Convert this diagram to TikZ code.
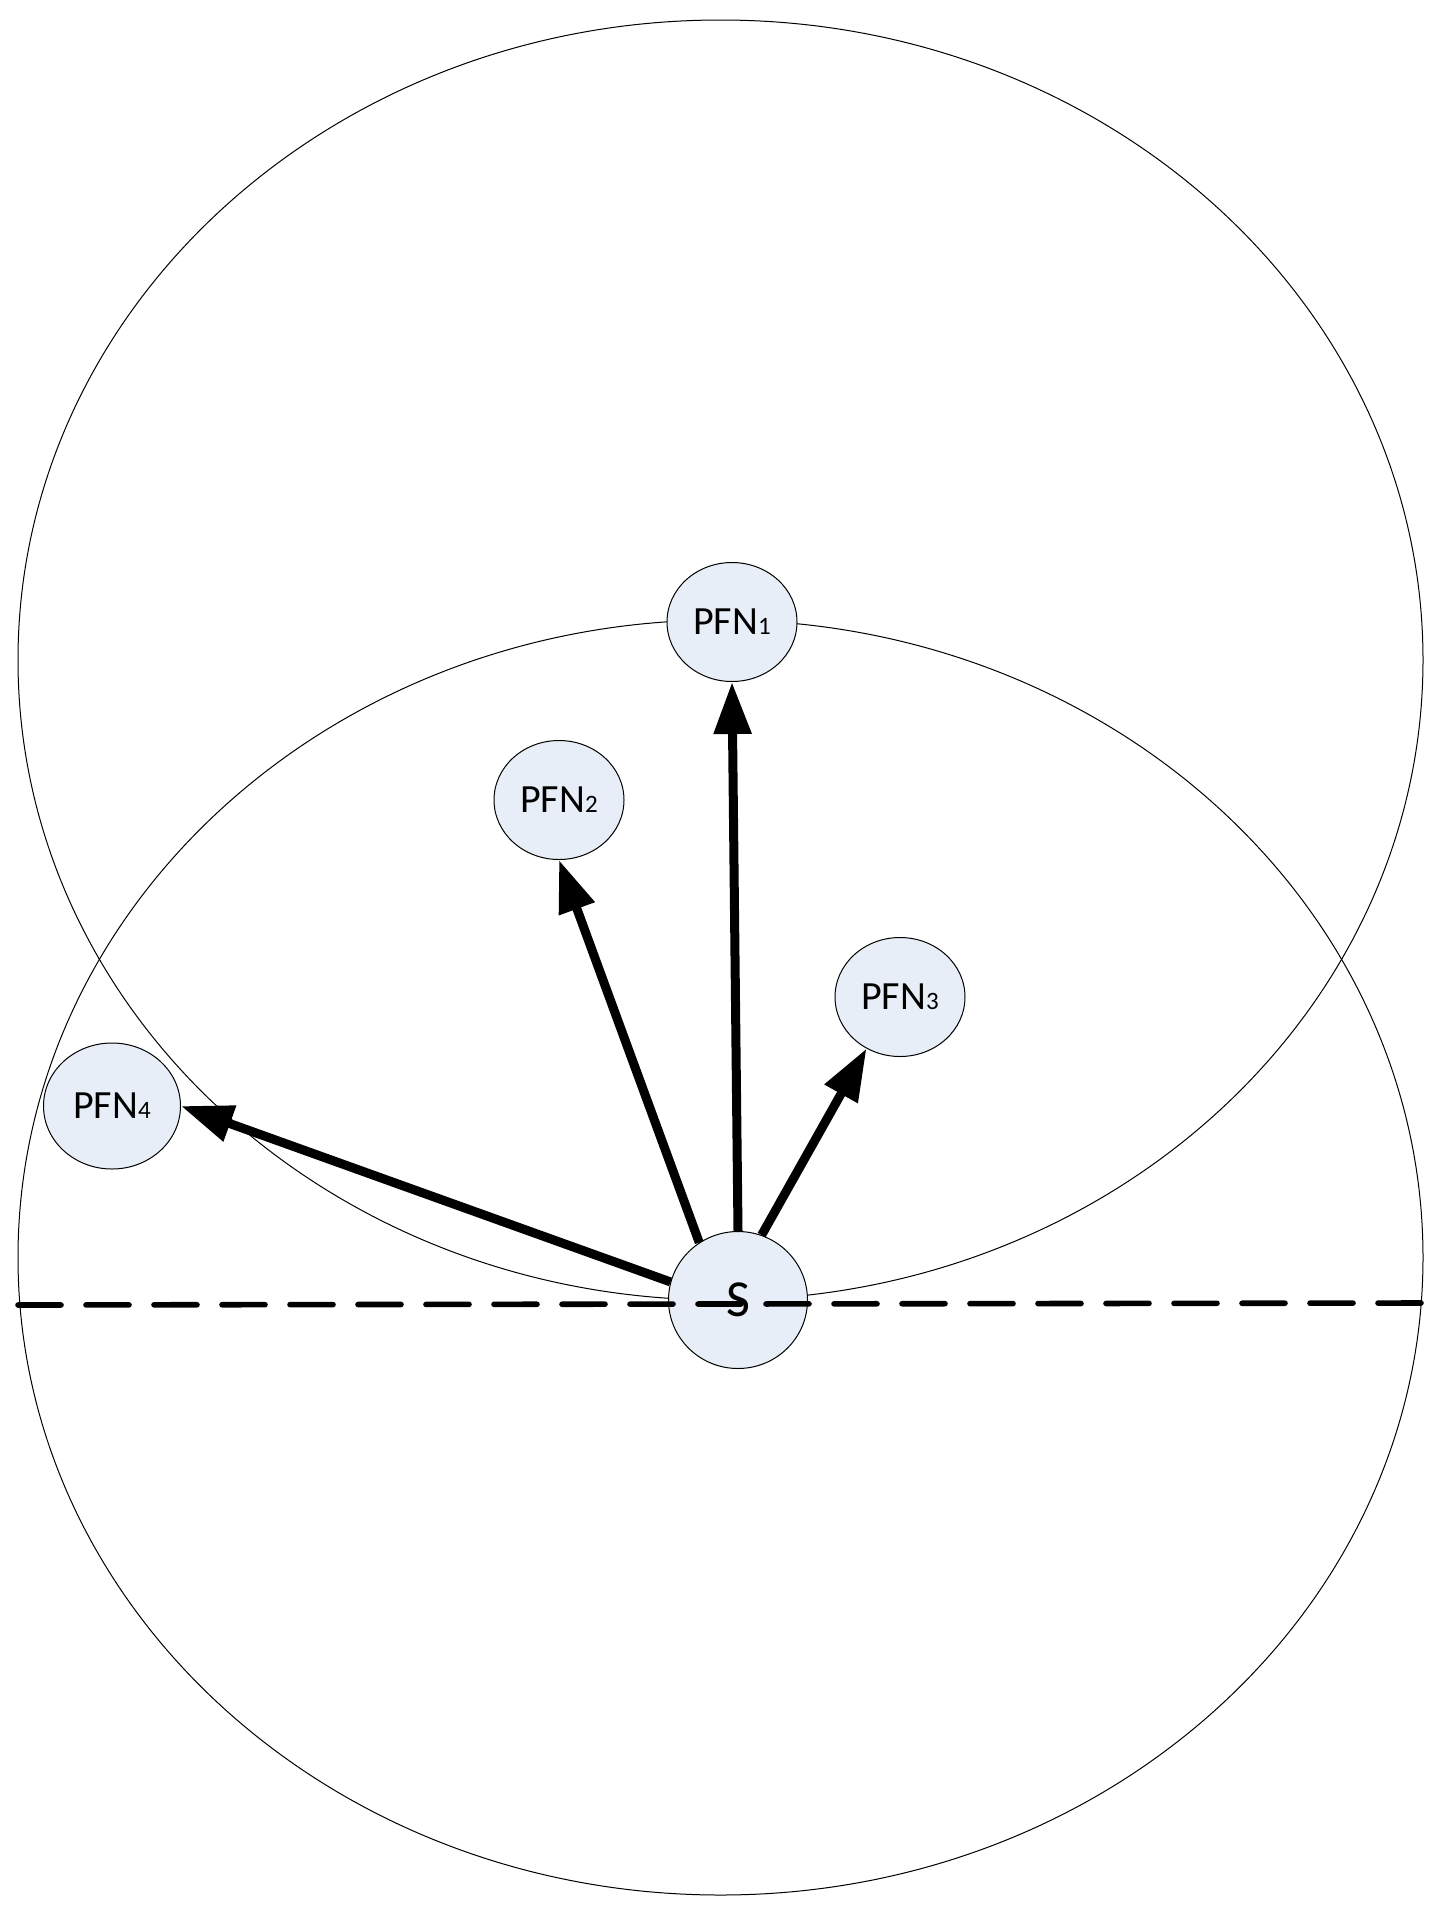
\documentclass[tikz,border=0pt]{standalone}
\usepackage{fontspec}
\setmainfont{Carlito}
\usetikzlibrary{arrows.meta,shapes.geometric}
\definecolor{nodefill}{RGB}{232,238,247}
\newcommand{\sdig}[1]{{\fontsize{12.5}{12.5}\selectfont #1}}
\begin{document}
\begin{tikzpicture}[x=0.5pt,y=-0.5pt,
 ring/.style={draw=black,line width=0.5pt},
 pfn/.style={ellipse,draw=black,line width=0.5pt,fill=nodefill,minimum width=65pt,minimum height=59.5pt,inner sep=0pt,font=\fontsize{20}{21}\selectfont},
 arr/.style={line width=4.5pt,-{Triangle[length=26pt,width=18pt]}},
 dashline/.style={line width=2.8pt,dash pattern=on 21.5pt off 12.5pt,line cap=round}]
\useasboundingbox (0,0) rectangle (1446,1917);
\fill[white] (0,0) rectangle (1446,1917);
\draw[ring] (720.5,660) ellipse [x radius=702.5, y radius=640];
\draw[ring] (720.5,1257.5) ellipse [x radius=702.5, y radius=637.5];
\node[pfn] (P1) at (732,622) {PFN\sdig{1}};
\node[pfn] (P2) at (559,800) {PFN\sdig{2}};
\node[pfn] (P3) at (900,997) {PFN\sdig{3}};
\node[pfn,minimum width=68.5pt,minimum height=63pt] (P4) at (112,1106) {PFN\sdig{4}};
\node[pfn,minimum width=69.5pt,minimum height=68.5pt,font=\fontsize{26}{27}\selectfont] (S) at (738,1300) {S};
\coordinate (L) at (18,1305);
\coordinate (R) at (1424,1303);
\draw[dashline] (L) -- (R);
\draw[arr] (S.north) -- (P1.south);
\draw[arr] (S.124) -- (P2.south);
\draw[arr] (S.70) -- (P3.237);
\draw[arr] (S.165) -- (P4.east);
\end{tikzpicture}
\end{document}
